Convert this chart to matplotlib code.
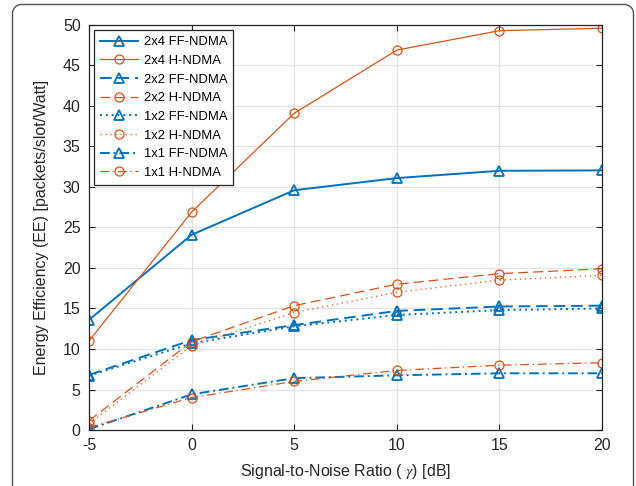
import numpy as np
import matplotlib.pyplot as plt
from matplotlib.lines import Line2D
from matplotlib.transforms import IdentityTransform

plt.rcParams['font.family'] = ['Liberation Sans', 'DejaVu Sans']
plt.rcParams['mathtext.fontset'] = 'stix'
plt.rcParams['axes.unicode_minus'] = False

# SNR points (dB)
snr_db = [-5, 0, 5, 10, 15, 20]

# energy efficiency per configuration
ee_2x4_ff = [13.6, 24.1, 29.6, 31.1, 32.0, 32.05]
ee_2x4_h = [11.0, 26.9, 39.1, 46.9, 49.3, 49.6]
ee_2x2_ff = [6.8, 11.1, 12.95, 14.7, 15.25, 15.35]
ee_2x2_h = [1.15, 10.9, 15.35, 18.0, 19.3, 19.9]
ee_1x2_ff = [6.7, 10.7, 12.8, 14.2, 14.8, 15.0]
ee_1x2_h = [0.8, 10.4, 14.5, 17.0, 18.5, 19.1]
ee_1x1_ff = [0.1, 4.4, 6.4, 6.75, 7.0, 7.0]
ee_1x1_h = [0.3, 4.0, 6.0, 7.35, 8.0, 8.3]

blue = '#0072BD'
orange = '#D95319'

fig = plt.figure(figsize=(6.36, 4.86), dpi=100)
ax = fig.add_axes([89 / 636, 1 - 430 / 486, 513 / 636, 405 / 486])

ff_kw = dict(color=blue, marker='^', ms=7, mfc='none', mew=1.3, lw=1.4)
h_kw = dict(color=orange, marker='o', ms=6.5, mfc='none', mew=0.9, lw=0.9)

ax.plot(snr_db, ee_2x4_ff, ls='-', label='2x4 FF-NDMA', **ff_kw)
ax.plot(snr_db, ee_2x4_h, ls='-', label='2x4 H-NDMA', **h_kw)
ax.plot(snr_db, ee_2x2_ff, ls=(0, (6, 3)), label='2x2 FF-NDMA', **ff_kw)
ax.plot(snr_db, ee_2x2_h, ls=(0, (8, 4)), label='2x2 H-NDMA', **h_kw)
ax.plot(snr_db, ee_1x2_ff, ls=(0, (1, 2)), label='1x2 FF-NDMA', **ff_kw)
ax.plot(snr_db, ee_1x2_h, ls=(0, (1, 3)), label='1x2 H-NDMA', **h_kw)
ax.plot(snr_db, ee_1x1_ff, ls=(0, (5, 2, 1, 2)), label='1x1 FF-NDMA', **ff_kw)
ax.plot(snr_db, ee_1x1_h, ls=(0, (7, 3, 1, 3)), label='1x1 H-NDMA', **h_kw)

ax.set_xlim(-5, 20)
ax.set_ylim(0, 50)
ax.set_xticks(snr_db)
ax.set_yticks(np.arange(0, 51, 5))
ax.tick_params(direction='in', top=True, right=True, labelsize=11.5,
               length=4, width=0.8, colors='#262626', pad=6)
ax.grid(True, color='#e3e3e3', lw=0.9)
ax.set_axisbelow(True)
for s in ax.spines.values():
    s.set_color('#262626')
    s.set_linewidth(0.9)

ax.set_xlabel(r'Signal-to-Noise Ratio ( $\gamma$) [dB]', fontsize=11.5,
              color='#262626', labelpad=6)
ax.set_ylabel('Energy Efficiency (EE) [packets/slot/Watt]', fontsize=11.5,
              color='#262626', labelpad=10)

leg = ax.legend(loc='upper left', fontsize=9.4, fancybox=False, framealpha=1,
                edgecolor='#262626', handlelength=2.9, labelspacing=0.5,
                borderaxespad=0.4, borderpad=0.45, handletextpad=0.45)
leg.get_frame().set_linewidth(0.9)

# outer frame (pixels): open at the bottom, rounded top corners
r = 9
x0, x1, ytop = 12.5, 633.5, 486 - 4.5
t = np.linspace(0, np.pi / 2, 20)
left_arc_x = x0 + r - r * np.cos(t)
left_arc_y = ytop - r + r * np.sin(t)
right_arc_x = x1 - r + r * np.sin(t)
right_arc_y = ytop - r + r * np.cos(t)
fx = np.concatenate([[x0], left_arc_x, right_arc_x, [x1]])
fy = np.concatenate([[-20], left_arc_y, right_arc_y, [-20]])
fig.lines.append(Line2D(fx, fy, transform=IdentityTransform(),
                        color='#555555', lw=1.0))

fig.savefig('out.png', dpi=100)
